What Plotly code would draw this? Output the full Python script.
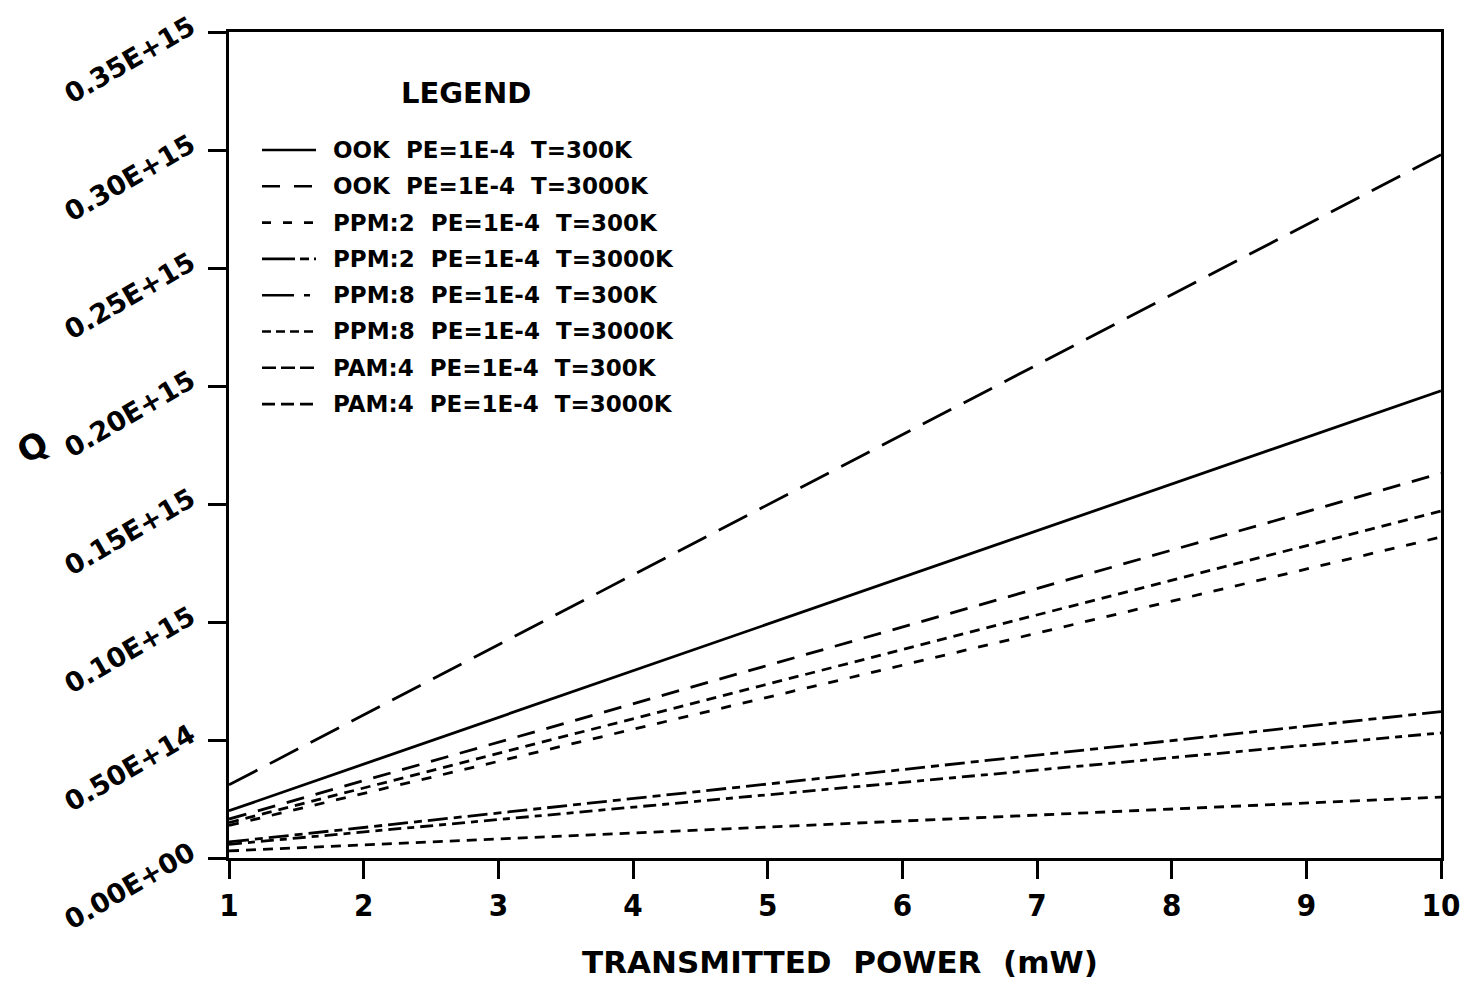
import plotly.graph_objects as go

# Transmitted power (mW) at the two ends of each straight curve
power_mw = [1, 10]

# Q for each modulation / temperature case, at 1 mW and 10 mW
q_ook_300 = [2.0e13, 1.98e14]
q_ook_3000 = [3.1e13, 2.98e14]
q_ppm2_300 = [1.38e13, 1.36e14]
q_ppm2_3000 = [6.8e12, 6.2e13]
q_ppm8_300 = [5.8e12, 5.3e13]
q_ppm8_3000 = [1.5e13, 1.47e14]
q_pam4_300 = [1.65e13, 1.63e14]
q_pam4_3000 = [3.0e12, 2.58e13]

series_labels = [
    "OOK  PE=1E-4  T=300K",
    "OOK  PE=1E-4  T=3000K",
    "PPM:2  PE=1E-4  T=300K",
    "PPM:2  PE=1E-4  T=3000K",
    "PPM:8  PE=1E-4  T=300K",
    "PPM:8  PE=1E-4  T=3000K",
    "PAM:4  PE=1E-4  T=300K",
    "PAM:4  PE=1E-4  T=3000K",
]
series_values = [q_ook_300, q_ook_3000, q_ppm2_300, q_ppm2_3000,
                 q_ppm8_300, q_ppm8_3000, q_pam4_300, q_pam4_3000]

# Dash pattern used along the curve, and the (shorter) pattern for its key sample
curve_dash = ["solid", "32px,14px", "10px,12px", "20px,6px,8px,6px",
              "13px,6px,7px,6px", "10px,7px", "18px,12px", "10px,7px"]
key_dash = ["solid", "18px,14px", "9px,12px", "33px,5px,9px,5px",
            "32px,10px,6px,10px", "9px,5px", "14px,5px", "13px,6px"]

y_tickvals = [0, 0.5e14, 1.0e14, 1.5e14, 2.0e14, 2.5e14, 3.0e14, 3.5e14]
y_ticktext = ["0.00E+00", "0.50E+14", "0.10E+15", "0.15E+15",
              "0.20E+15", "0.25E+15", "0.30E+15", "0.35E+15"]
x_tickvals = [1, 2, 3, 4, 5, 6, 7, 8, 9, 10]

W, H = 1468, 983
L, R, T, B = 229, 27, 32, 125
plot_w = W - L - R
plot_h = H - T - B

def px_x(px):
    return (px - L) / plot_w

def px_y(py):
    return (H - B - py) / plot_h

narrow = "Liberation Sans Narrow, DejaVu Sans Condensed, Liberation Sans, Arial"
wide = "DejaVu Sans, Verdana, sans-serif"

fig = go.Figure()
for label, q, dash in zip(series_labels, series_values, curve_dash):
    fig.add_trace(go.Scatter(
        x=power_mw, y=q, mode="lines", name=label, showlegend=False,
        line=dict(color="black", width=2.8, dash=dash),
    ))

# Hand-built key: title, line samples and labels
annotations = [
    dict(text="LEGEND", x=px_x(466), y=px_y(93), xref="paper", yref="paper",
         showarrow=False, xanchor="center", yanchor="middle",
         font=dict(family=wide, size=29, color="black", weight="bold")),
    dict(text="TRANSMITTED  POWER  (mW)", x=px_x(840), y=px_y(962),
         xref="paper", yref="paper", showarrow=False,
         xanchor="center", yanchor="middle",
         font=dict(family=wide, size=31, color="black", weight="bold")),
    dict(text="Q", x=px_x(32), y=px_y(447), xref="paper", yref="paper",
         showarrow=False, xanchor="center", yanchor="middle", textangle=-30,
         font=dict(family=wide, size=34, color="black", weight="bold")),
]
shapes = []
row0, row_step = 150, 36.3
for i, (label, dash) in enumerate(zip(series_labels, key_dash)):
    yy = px_y(row0 + i * row_step)
    shapes.append(dict(type="line", xref="paper", yref="paper",
                       x0=px_x(262), x1=px_x(316), y0=yy, y1=yy,
                       line=dict(color="black", width=2.6, dash=dash)))
    annotations.append(dict(
        text=label, x=px_x(331), y=yy, xref="paper", yref="paper",
        showarrow=False, xanchor="left", yanchor="middle",
        font=dict(family=wide, size=23, color="black", weight="bold")))

fig.update_layout(
    width=W, height=H,
    margin=dict(l=L, r=R, t=T, b=B, pad=0, autoexpand=False),
    paper_bgcolor="white", plot_bgcolor="white",
    showlegend=False,
    annotations=annotations,
    shapes=shapes,
    xaxis=dict(
        range=[1, 10], tickvals=x_tickvals, ticks="outside", ticklen=18,
        tickwidth=3, tickcolor="black", showline=True, linewidth=3,
        linecolor="black", mirror=True, showgrid=False, zeroline=False,
        automargin=False,
        tickfont=dict(family=narrow, size=31, color="black", weight="bold"),
    ),
    yaxis=dict(
        range=[0, 3.5e14], tickvals=y_tickvals, ticktext=y_ticktext,
        ticks="outside", ticklen=18, tickwidth=2.5, tickcolor="black",
        showline=True, linewidth=3, linecolor="black", mirror=True,
        showgrid=False, zeroline=False, tickangle=-30, automargin=False,
        ticklabelstandoff=12, ticklabelshift=-8,
        tickfont=dict(family=wide, size=27, color="black", weight="bold"),
    ),
)

fig.write_html("out.html")
